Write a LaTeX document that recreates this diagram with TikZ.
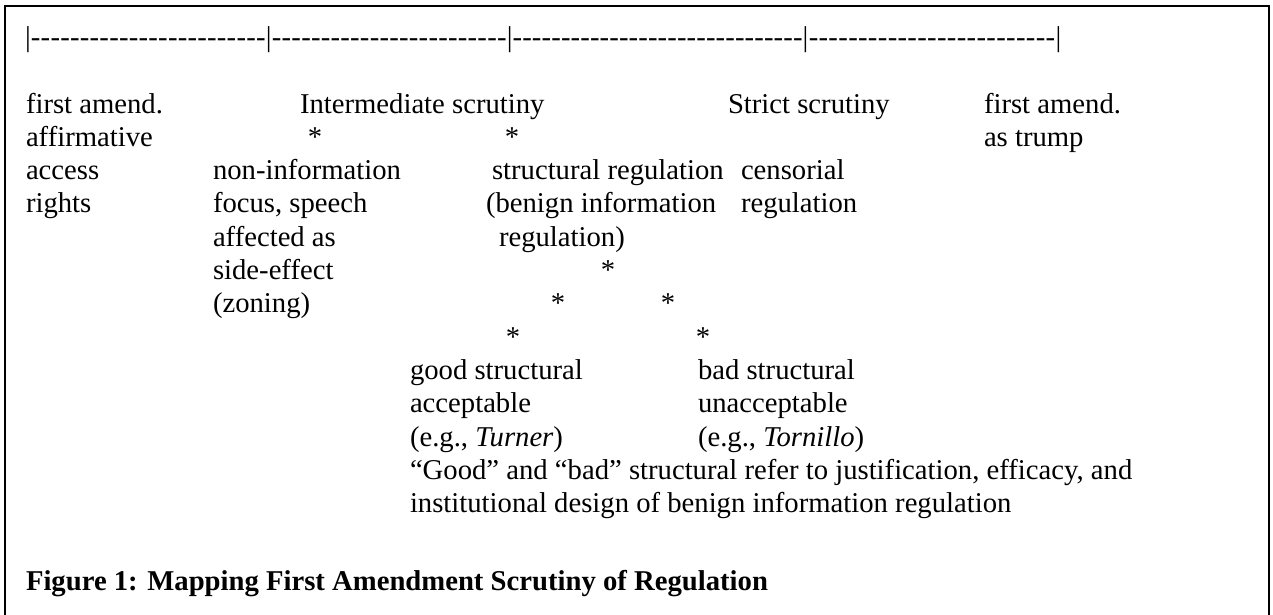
\documentclass[tikz,border=0pt]{standalone}
\usepackage{fontspec}
\setmainfont{Liberation Serif}
\newcommand{\dashrun}[1]{\hbox to #1{\xleaders\hbox{-}\hfill}}
\begin{document}
\begin{tikzpicture}[x=0.4184pt,y=-0.4184pt,
  txt/.style={anchor=base west,inner sep=0pt,outer sep=0pt,font=\fontsize{12}{13.8}\selectfont},
  star/.style={anchor=base,inner sep=0pt,outer sep=0pt,font=\fontsize{12}{13.8}\selectfont},
  frame/.style={line width=1pt,black}]
\useasboundingbox (0,0) rectangle (1273,614);
% open frame around the figure
\draw[frame] (5,616) -- (5,6) -- (1269,6) -- (1269,616);

% scale line of bars and dashes
\node[txt] (scale) at (25,46)
  {\hbox{|\dashrun{98.4pt}|\dashrun{98.4pt}|\dashrun{121.4pt}|\dashrun{103.4pt}|}};

% left column
\node[txt] (a1) at (26,113)   {first amend.};
\node[txt] (a2) at (26,146.3) {affirmative};
\node[txt] (a3) at (26,179.6) {access};
\node[txt] (a4) at (26,212.9) {rights};

% headings
\node[txt] (inter)  at (300,113) {Intermediate scrutiny};
\node[txt] (strict) at (728,113) {Strict scrutiny};
\node[txt] (t1) at (984,113)   {first amend.};
\node[txt] (t2) at (984,146.3) {as trump};

% asterisks under intermediate scrutiny
\node[star] (s1) at (315,146.3) {*};
\node[star] (s2) at (512,146.3) {*};

% non-information focus
\node[txt] (n1) at (213,179.6) {non-information};
\node[txt] (n2) at (213,212.9) {focus, speech};
\node[txt] (n3) at (213,246.2) {affected as};
\node[txt] (n4) at (213,279.5) {side-effect};
\node[txt] (n5) at (213,312.8) {(zoning)};

% structural regulation
\node[txt] (r1) at (492,179.6) {structural regulation};
\node[txt] (r2) at (486,212.9) {(benign information};
\node[txt] (r3) at (499,246.2) {regulation)};

% censorial regulation
\node[txt] (c1) at (741,179.6) {censorial};
\node[txt] (c2) at (741,212.9) {regulation};

% branching asterisks
\node[star] (s3) at (608,279.5) {*};
\node[star] (s4) at (558,312.8) {*};
\node[star] (s5) at (668,312.8) {*};
\node[star] (s6) at (513,346.1) {*};
\node[star] (s7) at (703,346.1) {*};

% good and bad structural
\node[txt] (g1) at (410,379.4) {good structural};
\node[txt] (g2) at (410,412.7) {acceptable};
\node[txt] (g3) at (410,446)   {(e.g., \textit{Turner})};
\node[txt] (h1) at (698,379.4) {bad structural};
\node[txt] (h2) at (698,412.7) {unacceptable};
\node[txt] (h3) at (698,446)   {(e.g., \textit{Tornillo})};

% note
\node[txt] (m1) at (410,479.3) {“Good” and “bad” structural refer to justification, efficacy, and};
\node[txt] (m2) at (410,512.6) {institutional design of benign information regulation};

% caption
\node[txt,font=\fontsize{12}{13.8}\selectfont\bfseries] (cap) at (26,590) {Figure 1: Mapping First Amendment Scrutiny of Regulation};
\end{tikzpicture}
\end{document}
